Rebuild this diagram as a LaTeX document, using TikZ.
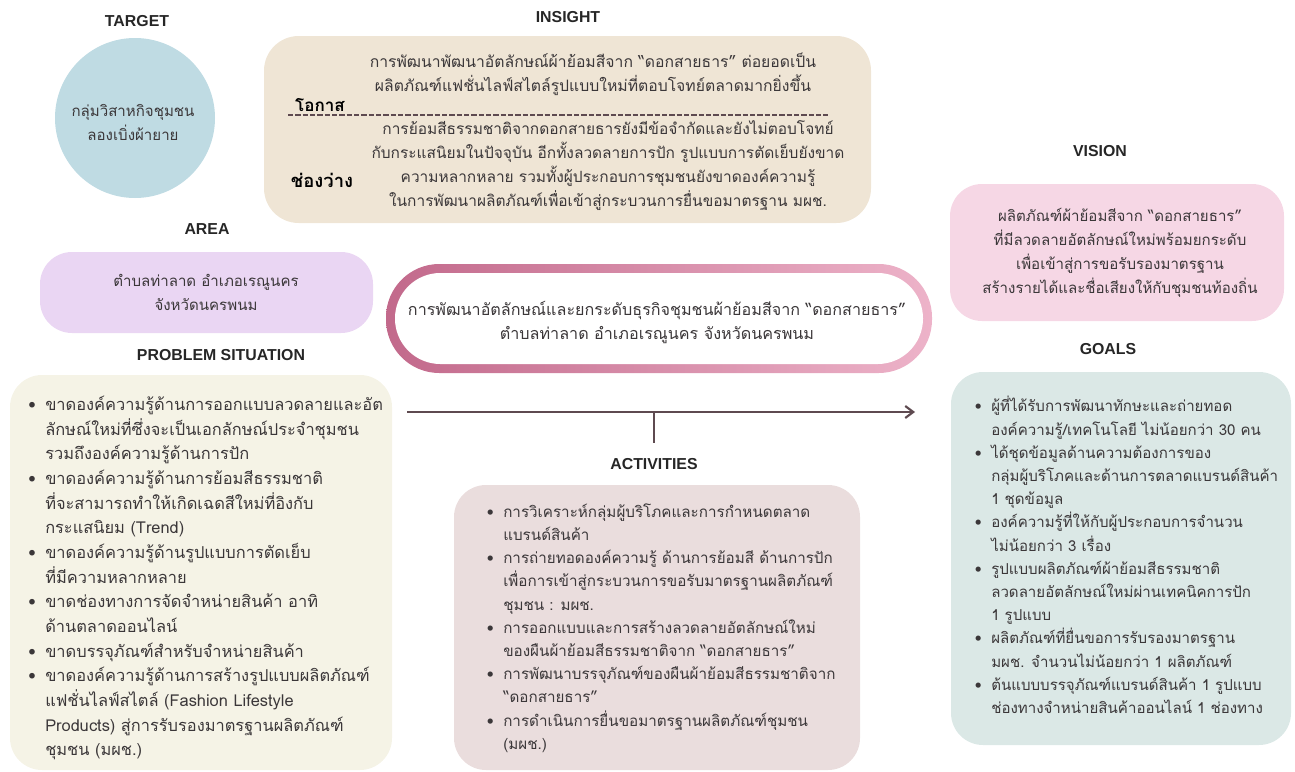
\documentclass[tikz,border=0pt]{standalone}
\usepackage{fontspec}
\usetikzlibrary{fit,arrows.meta}
\setmainfont{Liberation Sans}
\newfontfamily\thaifont[Script=Thai]{Loma}
\newfontfamily\headfont{Liberation Sans}
\lineskiplimit=-30pt
\newcommand\bl{\leavevmode\llap{\textbullet\hspace{7pt}}}
\definecolor{ink}{HTML}{3B3739}
\definecolor{targetc}{HTML}{BFDBE3}
\definecolor{insightc}{HTML}{EFE5D5}
\definecolor{areac}{HTML}{EAD6F3}
\definecolor{problemc}{HTML}{F5F3E6}
\definecolor{visionc}{HTML}{F6D7E5}
\definecolor{goalsc}{HTML}{DBE8E6}
\definecolor{activc}{HTML}{EADDDD}
\definecolor{linec}{HTML}{5E4A50}
\definecolor{pinka}{HTML}{C2698B}
\definecolor{pinkb}{HTML}{E690AB}
\definecolor{pinkc}{HTML}{EDB3C9}
\tikzset{
  panel/.style={rectangle,inner sep=0pt,draw=none,rounded corners=#1},
  panel/.default=24pt,
  head/.style={font=\headfont\bfseries\fontsize{11.9}{14}\selectfont,text=black!85,inner sep=0pt},
  body/.style={font=\thaifont\fontsize{#1}{18}\selectfont,text=ink,inner sep=0pt,align=center},
  body/.default=11.3,
  blist/.style 2 args={font=\thaifont\fontsize{#1}{#2}\selectfont,text=ink,inner sep=0pt,align=left,anchor=west},
  lab/.style={font=\thaifont\bfseries\fontsize{#1}{14}\selectfont,text=black,inner sep=0pt},
}
\begin{document}
\begin{tikzpicture}[x=0.75pt,y=-0.75pt]
\useasboundingbox (0,0) rectangle (1295,771);
% panels
\node[circle,fill=targetc,minimum size=120pt,inner sep=0pt] (target) at (135,118) {};
\node[panel=26pt,fill=insightc,fit={(264,36)(871,223)}] (insight) {};
\node[panel,fill=areac,fit={(40,252)(373,333)}] (area) {};
\node[panel,fill=problemc,fit={(10,375)(392,770)}] (problem) {};
\node[panel,fill=visionc,fit={(950,184)(1284,321)}] (vision) {};
\node[panel,fill=goalsc,fit={(951,372)(1291,745)}] (goals) {};
\node[panel,fill=activc,fit={(454,485)(860,770)}] (activ) {};
\node[panel=40pt,left color=pinka,middle color=pinkb,right color=pinkc,fit={(386,264)(932,373)}] (pillouter) {};
\node[panel=34pt,fill=white,fit={(395,273)(923,364)}] (pill) {};
% headings
\node[head] (h1) at (137,21) {TARGET};
\node[head] (h2) at (568,17) {INSIGHT};
\node[head] (h3) at (207,229) {AREA};
\node[head] (h4) at (221,355) {PROBLEM SITUATION};
\node[head] (h5) at (1100,151) {VISION};
\node[head] (h6) at (1108,349) {GOALS};
\node[head] (h7) at (654,464) {ACTIVITIES};
% connector
\coordinate (arrowstart) at (407,412);
\coordinate (arrowend) at (915,412);
\coordinate (stemtop) at (654,412);
\coordinate (stemend) at (654,443);
\draw[linec,line width=1.6pt,-{Straight Barb[length=6pt,width=9pt]}] (arrowstart) -- (arrowend);
\draw[linec,line width=1.6pt] (stemtop) -- (stemend);
% dashed divider
\coordinate (dasha) at (288,115);
\coordinate (dashb) at (828,115);
\draw[linec,line width=1.2pt,dash pattern=on 4pt off 1.5pt] (dasha) -- (dashb);
% texts
\node[body] (ttarget) at (133,122) {กลุ่มวิสาหกิจชุมชน\\ลองเบิ่งผ้ายาย};
\node[body=11.8] (tins1) at (593,74) {การพัฒนาพัฒนาอัตลักษณ์ผ้าย้อมสีจาก “ดอกสายธาร” ต่อยอดเป็น\\ผลิตภัณฑ์แฟชั่นไลฟ์สไตล์รูปแบบใหม่ที่ตอบโจทย์ตลาดมากยิ่งขึ้น};
\node[body=11.6] (tins2) at (608,166) {การย้อมสีธรรมชาติจากดอกสายธารยังมีข้อจำกัดและยังไม่ตอบโจทย์\\กับกระแสนิยมในปัจจุบัน อีกทั้งลวดลายการปัก รูปแบบการตัดเย็บยังขาด\\ความหลากหลาย รวมทั้งผู้ประกอบการชุมชนยังขาดองค์ความรู้\\ในการพัฒนาผลิตภัณฑ์เพื่อเข้าสู่กระบวนการยื่นขอมาตรฐาน มผช.};
\node[lab=12.8] (lop) at (320,105) {โอกาส};
\node[lab=13.8] (lgap) at (322,180) {ช่องว่าง};
\node[body] (tarea) at (206,292) {ตำบลท่าลาด อำเภอเรณูนคร\\จังหวัดนครพนม};
\node[body=12.1] (tpill) at (657,323) {การพัฒนาอัตลักษณ์และยกระดับธุรกิจชุมชนผ้าย้อมสีจาก “ดอกสายธาร”\\ตำบลท่าลาด อำเภอเรณูนคร จังหวัดนครพนม};
\node[body] (tvision) at (1120,253) {ผลิตภัณฑ์ผ้าย้อมสีจาก “ดอกสายธาร”\\ที่มีลวดลายอัตลักษณ์ใหม่พร้อมยกระดับ\\เพื่อเข้าสู่การขอรับรองมาตรฐาน\\สร้างรายได้และชื่อเสียงให้กับชุมชนท้องถิ่น};
\node[blist={12.3}{18.5pt}] (tprob) at (45,578) {\bl ขาดองค์ความรู้ด้านการออกแบบลวดลายและอัต\\ลักษณ์ใหม่ที่ซึ่งจะเป็นเอกลักษณ์ประจำชุมชน\\รวมถึงองค์ความรู้ด้านการปัก\\\bl ขาดองค์ความรู้ด้านการย้อมสีธรรมชาติ\\ที่จะสามารถทำให้เกิดเฉดสีใหม่ที่อิงกับ\\กระแสนิยม (Trend)\\\bl ขาดองค์ความรู้ด้านรูปแบบการตัดเย็บ\\ที่มีความหลากหลาย\\\bl ขาดช่องทางการจัดจำหน่ายสินค้า อาทิ\\ด้านตลาดออนไลน์\\\bl ขาดบรรจุภัณฑ์สำหรับจำหน่ายสินค้า\\\bl ขาดองค์ความรู้ด้านการสร้างรูปแบบผลิตภัณฑ์\\แฟชั่นไลฟ์สไตล์ (Fashion Lifestyle\\Products) สู่การรับรองมาตรฐานผลิตภัณฑ์\\ชุมชน (มผช.)};
\node[blist={11.4}{17.4pt}] (tact) at (503,628) {\bl การวิเคราะห์กลุ่มผู้บริโภคและการกำหนดตลาด\\แบรนด์สินค้า\\\bl การถ่ายทอดองค์ความรู้ ด้านการย้อมสี ด้านการปัก\\เพื่อการเข้าสู่กระบวนการขอรับมาตรฐานผลิตภัณฑ์\\ชุมชน : มผช.\\\bl การออกแบบและการสร้างลวดลายอัตลักษณ์ใหม่\\ของผืนผ้าย้อมสีธรรมชาติจาก “ดอกสายธาร”\\\bl การพัฒนาบรรจุภัณฑ์ของผืนผ้าย้อมสีธรรมชาติจาก\\“ดอกสายธาร”\\\bl การดำเนินการยื่นขอมาตรฐานผลิตภัณฑ์ชุมชน\\(มผช.)};
\node[blist={11.3}{17.4pt}] (tgoals) at (991,555) {\bl ผู้ที่ได้รับการพัฒนาทักษะและถ่ายทอด\\องค์ความรู้/เทคโนโลยี ไม่น้อยกว่า 30 คน\\\bl ได้ชุดข้อมูลด้านความต้องการของ\\กลุ่มผู้บริโภคและด้านการตลาดแบรนด์สินค้า\\1 ชุดข้อมูล\\\bl องค์ความรู้ที่ให้กับผู้ประกอบการจำนวน\\ไม่น้อยกว่า 3 เรื่อง\\\bl รูปแบบผลิตภัณฑ์ผ้าย้อมสีธรรมชาติ\\ลวดลายอัตลักษณ์ใหม่ผ่านเทคนิคการปัก\\1 รูปแบบ\\\bl ผลิตภัณฑ์ที่ยื่นขอการรับรองมาตรฐาน\\มผช. จำนวนไม่น้อยกว่า 1 ผลิตภัณฑ์\\\bl ต้นแบบบรรจุภัณฑ์แบรนด์สินค้า 1 รูปแบบ\\ช่องทางจำหน่ายสินค้าออนไลน์ 1 ช่องทาง};
\end{tikzpicture}
\end{document}
